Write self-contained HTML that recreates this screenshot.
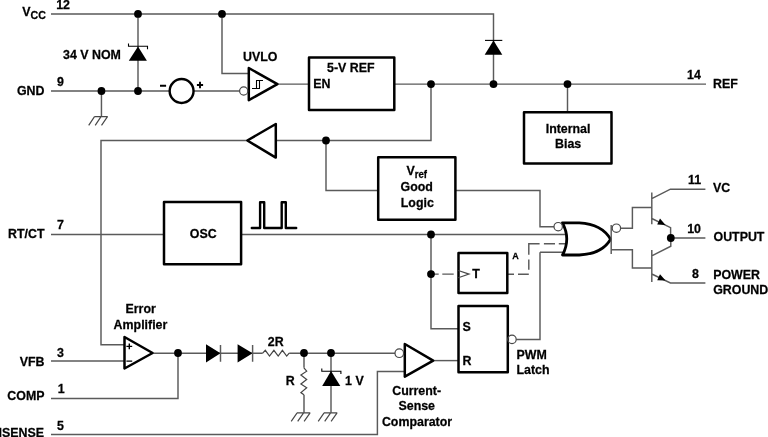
<!DOCTYPE html>
<html><head><meta charset="utf-8">
<style>
html,body{margin:0;padding:0;background:#fff;}
svg{display:block;will-change:transform;}
text{font-family:"Liberation Sans",sans-serif;font-weight:bold;fill:#000;stroke:#000;stroke-width:0.25px;}
.w{stroke:#5a5a5a;stroke-width:1.45;fill:none;}
.b{stroke:#000;stroke-width:2.5;fill:none;stroke-linejoin:round;}
.d{fill:#000;}
.k{stroke:#000;stroke-width:1.1;fill:none;}
.z{stroke:#444;stroke-width:1.2;fill:none;stroke-linejoin:miter;}
.g{stroke:#484848;stroke-width:1.2;fill:none;}
</style></head>
<body>
<svg width="768" height="437" viewBox="0 0 768 437">
<!-- wires -->
<path class="w" d="M51 13.9H493.5V84"/>
<path class="w" d="M138 13.9V91"/>
<path class="w" d="M51 91H170 M193 91H239.5"/>
<path class="w" d="M101.45 91V116.7"/>
<path class="w" d="M222 13.9V73.4H248.6"/>
<path class="w" d="M278 84.1H309 M394.6 84.1H706"/>
<path class="w" d="M567.5 84V111.7"/>
<path class="w" d="M431 84V140.5H275.8 M246.4 140.5H101V344.8H124"/>
<path class="w" d="M326 140.5V190.4H377.7"/>
<path class="w" d="M455.8 190.4H540V226.7H554"/>
<path class="w" d="M51 234.5H163.6 M242 234.5H565"/>
<path class="w" d="M431 234.5V328.7H458.3"/>
<path class="w" d="M540 252.3H563 M540 252.3V339.4H516.3"/>
<path class="w" d="M51 361H124"/>
<path class="w" d="M153.2 353.3H262.7 M289.2 353.3H395"/>
<path class="w" d="M51 398.5H178V353"/>
<path class="w" d="M51 434.5H377.4V371.4H404.5"/>
<path class="w" d="M433.8 360.6H458.3"/>
<path class="w" d="M304 353V367.8 M304 394.7V412.8"/>
<path class="w" d="M331 353V412.8"/>
<!-- dashed -->
<path d="M431 274.1H438.7 M442.3 274.1H453.7 M508 274.3H514 M518 274.3H528.8 M528.8 269.7V259.6 M528.8 254.8V243.8H539.6 M543.9 243.8H555 M558.8 243.8H565" class="w"/>
<!-- boxes -->
<rect class="b" x="309" y="57.5" width="85.3" height="52.6"/>
<rect class="b" x="524" y="112.2" width="87.5" height="51.4"/>
<rect class="b" x="378.2" y="157.3" width="77.2" height="62.4"/>
<rect class="b" x="164" y="202" width="77.1" height="62.3"/>
<rect class="b" x="458.5" y="253" width="48.8" height="40.1"/>
<rect class="b" x="458.5" y="306" width="49.3" height="66.3"/>
<!-- UVLO -->
<path class="b" d="M248.8 68L277.4 84.2L248.8 100.2Z" stroke-linejoin="miter"/>
<circle class="g" cx="243.7" cy="91" r="4.1" fill="#fff"/>
<path class="k" d="M252 88.5H260 M256.5 88.5V80.5 M259.5 88.5V80.5 M256 80.5H263"/>
<!-- voltage source -->
<circle cx="181.6" cy="91" r="11.95" stroke="#000" stroke-width="2.4" fill="none"/>
<path d="M160 85.7H166.1 M196.9 85H203.1 M200 81.8V88.2" stroke="#000" stroke-width="1.9" fill="none"/>
<!-- buffer -->
<path class="b" d="M247.3 140.5L275.8 124V157.6Z" stroke-linejoin="miter"/>
<!-- zener top -->
<path class="d" d="M138 46.5L146.9 60.8H128.8Z"/>
<path class="k" d="M128.5 43.4V46.3H147.5V49.3"/>
<!-- diode top right -->
<path class="d" d="M493.5 40.4L502.3 54.7H484.7Z"/>
<path class="k" d="M485 40.4H502.3"/>
<!-- OR gate -->
<path d="M562.5 222.8H579.3Q602 224 610.6 239.3Q602 254 579.3 255H562.5Q571 239 562.5 222.8Z" stroke="#000" stroke-width="2.8" fill="none" stroke-linejoin="round"/>
<circle class="g" cx="558.2" cy="226.7" r="4.2" fill="#fff"/>
<path class="w" d="M611.2 225V254"/>
<circle class="g" cx="616.4" cy="228.2" r="4.2" fill="#fff"/>
<path class="w" d="M620.6 228.2H632.4V207.5H651.8 M611.2 249.7H632.4V268H651.8"/>
<!-- transistors -->
<path class="w" d="M651.8 192.6V224.3 M651.8 198.6L670.4 189.2H705.4 M651.8 218.5L670.6 227.6V238H705.4"/>
<path class="d" d="M665.5 225L660 218.6L657.2 224.6Z"/>
<path class="w" d="M651.8 249.9V281.9 M670.8 238V246.2L651.8 255.8 M651.8 274L670.4 282.9H705.4"/>
<path class="d" d="M665.5 280.5L660 274.2L657.2 280.2Z"/>
<!-- pulses -->
<path d="M251.8 228H260.1V202.2H264.2V228H281.7V202.2H285.8V228H296.2" stroke="#000" stroke-width="2.4" fill="none" stroke-linecap="round" stroke-linejoin="round"/>
<!-- T clock -->
<path class="g" d="M458.3 270.5L469 274.1L458.3 277.7"/>
<!-- latch bubble -->
<circle class="g" cx="512" cy="339.4" r="4.2" fill="#fff"/>
<!-- error amp -->
<path class="b" d="M124.5 337L152.6 353L124.5 368.5Z" stroke-linejoin="miter"/>
<path d="M126.4 346.4H132.2 M129.3 343.5V349.3 M126.4 361.1H132.2" stroke="#000" stroke-width="1.4" fill="none"/>
<!-- comparator -->
<path class="b" d="M404.8 344L433.2 360.6L404.8 376.7Z" stroke-linejoin="miter"/>
<circle class="g" cx="399.3" cy="353.2" r="4.3" fill="#fff"/>
<!-- diodes -->
<path class="d" d="M206 344.3V362.5L220.5 353.3Z M237.6 344.3V362.5L252.6 353.3Z"/>
<path class="w" d="M220.5 345V361.8 M252.6 345V361.8"/>
<!-- resistors -->
<path class="z" d="M262.7 353.1L265.3 350.3L269.5 356.1L273.9 350.3L278.2 356.1L282.4 350.3L286.7 356.1L289.2 353.1"/>
<path class="z" d="M303.9 367.8L306.7 371.2L300.9 375.1L306.7 379.4L300.9 384L306.7 387.7L300.9 392.6L303.9 394.7"/>
<!-- zener 1V -->
<path class="d" d="M331 371L340.3 386H322.2Z"/>
<path class="k" d="M321.8 368.6V371.2H340.9V374"/>
<!-- grounds -->
<path class="g" d="M94.5 116.7H107.8 M94.5 116.7L88.7 125.3 M101.0 116.7L95.2 125.3 M107.5 116.7L101.5 125.3"/>
<path class="g" d="M297.0 412.8H310.3 M297.1 412.8L291.2 421.3 M303.6 412.8L297.7 421.3 M310.1 412.8L304.1 421.3"/>
<path class="g" d="M324.0 412.8H337.3 M324.1 412.8L318.2 421.3 M330.6 412.8L324.7 421.3 M337.1 412.8L331.1 421.3"/>
<!-- dots -->
<g class="d">
<circle cx="138" cy="13.9" r="3.9"/><circle cx="222" cy="13.9" r="3.9"/>
<circle cx="101.45" cy="91" r="3.9"/><circle cx="138" cy="91" r="3.9"/>
<circle cx="431" cy="84.1" r="3.9"/><circle cx="493.5" cy="84.1" r="3.9"/><circle cx="567.5" cy="84.1" r="3.9"/>
<circle cx="326" cy="140.5" r="3.9"/>
<circle cx="431" cy="234.5" r="3.9"/><circle cx="431" cy="274.1" r="3.9"/>
<circle cx="670.8" cy="238" r="3.9"/>
<circle cx="178" cy="353" r="3.9"/><circle cx="304" cy="353" r="3.9"/><circle cx="331" cy="353" r="3.9"/>
</g>

<text transform="translate(22.2 16.2) scale(1 1.05)" font-size="12.4">V</text>
<text transform="translate(30.5 19.0) scale(1 1.05)" font-size="10.6">CC</text>
<text transform="translate(56.2 9.0) scale(1 1.05)" font-size="12.4">12</text>
<text transform="translate(63 59.2) scale(1 1.05)" font-size="12.4">34 V NOM</text>
<text transform="translate(44.5 94.5) scale(1 1.05)" font-size="12.4" text-anchor="end">GND</text>
<text transform="translate(57 86) scale(1 1.05)" font-size="12.4">9</text>
<text transform="translate(243 61) scale(1 1.05)" font-size="12.4">UVLO</text>
<text transform="translate(327 72) scale(1 1.05)" font-size="12.4">5-V REF</text>
<text transform="translate(313.3 87.6) scale(1 1.05)" font-size="12.4">EN</text>
<text transform="translate(687 79) scale(1 1.05)" font-size="12.4">14</text>
<text transform="translate(713 88) scale(1 1.05)" font-size="12.4">REF</text>
<text transform="translate(545.7 132.6) scale(1 1.05)" font-size="12.4">Internal</text>
<text transform="translate(555 147.8) scale(1 1.05)" font-size="12.4">Bias</text>
<text transform="translate(406.6 175.4) scale(1 1.05)" font-size="12.4">V</text>
<text transform="translate(414.8 178.3) scale(1 1.05)" font-size="9.6">ref</text>
<text transform="translate(400.6 191.2) scale(1 1.05)" font-size="12.4">Good</text>
<text transform="translate(400.8 206.6) scale(1 1.05)" font-size="12.4">Logic</text>
<text transform="translate(688 183.8) scale(1 1.05)" font-size="12.4">11</text>
<text transform="translate(713 192.4) scale(1 1.05)" font-size="12.4">VC</text>
<text transform="translate(44.5 237.7) scale(1 1.05)" font-size="12.4" text-anchor="end">RT/CT</text>
<text transform="translate(57 229) scale(1 1.05)" font-size="12.4">7</text>
<text transform="translate(189.8 237.7) scale(1 1.05)" font-size="12.4">OSC</text>
<text transform="translate(687.2 232.8) scale(1 1.05)" font-size="12.4">10</text>
<text transform="translate(713.5 240.7) scale(1 1.05)" font-size="12.4">OUTPUT</text>
<text transform="translate(512.2 258.7) scale(1 1.05)" font-size="9">A</text>
<text transform="translate(472.3 278) scale(1 1.05)" font-size="12.4">T</text>
<text transform="translate(692 278.1) scale(1 1.05)" font-size="12.4">8</text>
<text transform="translate(713.2 278.6) scale(1 1.05)" font-size="12.4">POWER</text>
<text transform="translate(713.2 294.1) scale(1 1.05)" font-size="12.4">GROUND</text>
<text transform="translate(125.5 313.4) scale(1 1.05)" font-size="12.4">Error</text>
<text transform="translate(113.6 328.9) scale(1 1.05)" font-size="12.4">Amplifier</text>
<text transform="translate(462.6 331.3) scale(1 1.05)" font-size="12.4">S</text>
<text transform="translate(462.6 364.9) scale(1 1.05)" font-size="12.4">R</text>
<text transform="translate(516.6 358.5) scale(1 1.05)" font-size="12.4">PWM</text>
<text transform="translate(516.5 374) scale(1 1.05)" font-size="12.4">Latch</text>
<text transform="translate(44.5 365.6) scale(1 1.05)" font-size="12.4" text-anchor="end">VFB</text>
<text transform="translate(57 356.6) scale(1 1.05)" font-size="12.4">3</text>
<text transform="translate(267.8 345.9) scale(1 1.05)" font-size="12.4">2R</text>
<text transform="translate(285.8 384.7) scale(1 1.05)" font-size="12.4">R</text>
<text transform="translate(345.1 384.7) scale(1 1.05)" font-size="12.4">1 V</text>
<text transform="translate(44.5 400.1) scale(1 1.05)" font-size="12.4" text-anchor="end">COMP</text>
<text transform="translate(57.8 393.2) scale(1 1.05)" font-size="12.4">1</text>
<text transform="translate(392.2 395) scale(1 1.05)" font-size="12.4">Current-</text>
<text transform="translate(398.5 410.4) scale(1 1.05)" font-size="12.4">Sense</text>
<text transform="translate(381.9 425.8) scale(1 1.05)" font-size="12.4">Comparator</text>
<text transform="translate(44 436.8) scale(1 1.05)" font-size="12.4" text-anchor="end">ISENSE</text>
<text transform="translate(57 429.5) scale(1 1.05)" font-size="12.4">5</text>
</svg>
</body></html>
